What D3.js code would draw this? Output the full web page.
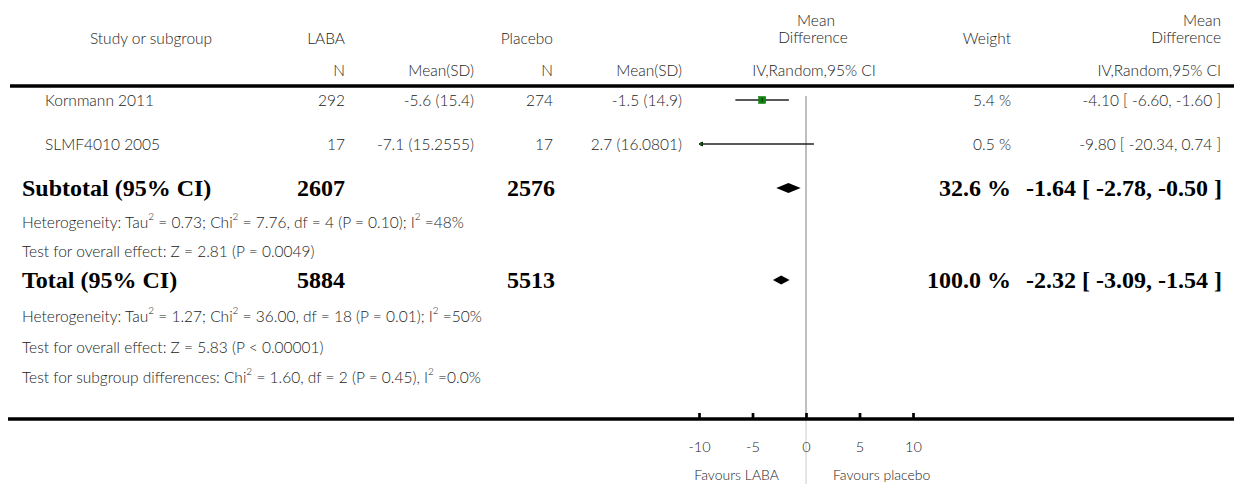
<!DOCTYPE html>
<html><head><meta charset="utf-8">
<script src="https://cdn.jsdelivr.net/npm/d3@7/dist/d3.min.js"></script>
<style>
body{margin:0;background:#fff;}
svg{display:block;}
.t{font-family:Lato,"Open Sans",sans-serif;font-weight:300;font-size:15.5px;fill:#222;}
.b{font-family:"Liberation Serif","DejaVu Serif",serif;font-weight:bold;font-size:24px;fill:#000;}
</style></head>
<body>
<script>
// ---- data ----
const studies = ["Kornmann 2011", "SLMF4010 2005"];
const labaN = [292, 17];
const labaMeanSD = ["-5.6 (15.4)", "-7.1 (15.2555)"];
const placeboN = [274, 17];
const placeboMeanSD = ["-1.5 (14.9)", "2.7 (16.0801)"];
const md = [-4.10, -9.80];
const mdLo = [-6.60, -20.34];
const mdHi = [-1.60, 0.74];
const weights = [5.4, 0.5];
const pooledLabels = ["Subtotal (95% CI)", "Total (95% CI)"];
const pooledLabaN = [2607, 5884];
const pooledPlaceboN = [2576, 5513];
const pooledWeight = [32.6, 100.0];
const pooledMd = [-1.64, -2.32];
const pooledLo = [-2.78, -3.09];
const pooledHi = [-0.50, -1.54];
const ticks = [-10, -5, 0, 5, 10];
const favours = ["Favours LABA", "Favours placebo"];

const W = 1234, H = 484;
const svg = d3.select("body").append("svg").attr("width", W).attr("height", H);
const x = d3.scaleLinear().domain([-10, 10]).range([699, 913]);
const sq = d3.scaleSqrt().domain([0, 5.4]).range([0, 7]);
const f2 = v => v.toFixed(2);

function txt(s, xx, yy, anchor, cls) {
  return svg.append("text").attr("class", cls || "t").attr("x", xx).attr("y", yy)
    .attr("text-anchor", anchor || "start").attr("dominant-baseline", "central").text(s);
}
function supText(parts, xx, yy) {
  const t = svg.append("text").attr("class", "t").attr("x", xx).attr("y", yy).attr("dominant-baseline", "central");
  parts.forEach(p => {
    if (p[1]) t.append("tspan").attr("font-size", "10px").attr("dy", -6).text(p[0]);
    else t.append("tspan").attr("dy", p[2] || 0).text(p[0]);
  });
}

// ---- header ----
txt("Study or subgroup", 151, 38, "middle");
txt("LABA", 345, 38, "end");
txt("Placebo", 553, 38, "end");
txt("Mean", 816, 20, "middle");
txt("Difference", 813, 37, "middle");
txt("Weight", 1011, 38, "end");
txt("Mean", 1221, 20, "end");
txt("Difference", 1221, 37, "end");
txt("N", 345, 70, "end");
txt("Mean(SD)", 474, 70, "end");
txt("N", 553, 70, "end");
txt("Mean(SD)", 682, 70, "end");
txt("IV,Random,95% CI", 814, 70, "middle");
txt("IV,Random,95% CI", 1221, 70, "end");
svg.append("line").attr("x1", 10).attr("x2", W).attr("y1", 86).attr("y2", 86)
  .attr("stroke", "#000").attr("stroke-width", 3.5);

// ---- zero line ----
const axisY = 419;
svg.append("line").attr("x1", x(0)).attr("x2", x(0)).attr("y1", 96).attr("y2", axisY)
  .attr("stroke", "#aaa").attr("stroke-width", 1.5);
svg.append("line").attr("x1", x(0)).attr("x2", x(0)).attr("y1", axisY).attr("y2", H)
  .attr("stroke", "#ddd").attr("stroke-width", 1.5);

// ---- study rows ----
const rowY = [100, 144];
studies.forEach((s, i) => {
  const y = rowY[i];
  txt(s, 45, y, "start");
  txt(labaN[i], 345, y, "end");
  txt(labaMeanSD[i], 474, y, "end");
  txt(placeboN[i], 553, y, "end");
  txt(placeboMeanSD[i], 682, y, "end");
  txt(weights[i].toFixed(1) + " %", 1011, y, "end");
  txt(f2(md[i]) + " [ " + f2(mdLo[i]) + ", " + f2(mdHi[i]) + " ]", 1221, y, "end");
  const lo = Math.max(mdLo[i], x.domain()[0]);
  const hi = Math.min(mdHi[i], x.domain()[1]);
  svg.append("line").attr("x1", x(lo)).attr("x2", x(hi)).attr("y1", y).attr("y2", y)
    .attr("stroke", "#222").attr("stroke-width", 1.3);
  if (mdLo[i] < x.domain()[0]) {
    const ax = x(x.domain()[0]);
    svg.append("path").attr("d", `M${ax},${y} L${ax + 4},${y - 2.5} L${ax + 4},${y + 2.5} Z`).attr("fill", "#000");
  }
  if (md[i] >= x.domain()[0]) {
    const s2 = sq(weights[i]);
    svg.append("rect").attr("x", x(md[i]) - s2 / 2).attr("y", y - s2 / 2).attr("width", s2).attr("height", s2)
      .attr("fill", "#0a8a0a").attr("stroke", "#0a6a0a").attr("stroke-width", 0.5);
    svg.append("line").attr("x1", x(md[i])).attr("x2", x(md[i])).attr("y1", y - 2).attr("y2", y + 2)
      .attr("stroke", "#222").attr("stroke-width", 1);
  }
});

// ---- pooled rows ----
const pooledY = [188, 280];
const diamondH = [10, 9];
pooledLabels.forEach((s, i) => {
  const y = pooledY[i];
  txt(s, 22, y, "start", "b");
  txt(pooledLabaN[i], 345, y, "end", "b");
  txt(pooledPlaceboN[i], 555, y, "end", "b");
  txt(pooledWeight[i].toFixed(1) + " %", 1011, y, "end", "b");
  txt(f2(pooledMd[i]) + " [ " + f2(pooledLo[i]) + ", " + f2(pooledHi[i]) + " ]", 1222, y, "end", "b");
  const h = diamondH[i] / 2;
  svg.append("path").attr("d",
    `M${x(pooledLo[i])},${y} L${x(pooledMd[i])},${y - h} L${x(pooledHi[i])},${y} L${x(pooledMd[i])},${y + h} Z`)
    .attr("fill", "#000");
});

// ---- notes ----
supText([["Heterogeneity: Tau"], ["2", true], [" = 0.73; Chi", false, 6], ["2", true], [" = 7.76, df = 4 (P = 0.10); I", false, 6], ["2", true], [" =48%", false, 6]], 22, 222);
txt("Test for overall effect: Z = 2.81 (P = 0.0049)", 22, 251);
supText([["Heterogeneity: Tau"], ["2", true], [" = 1.27; Chi", false, 6], ["2", true], [" = 36.00, df = 18 (P = 0.01); I", false, 6], ["2", true], [" =50%", false, 6]], 22, 316);
txt("Test for overall effect: Z = 5.83 (P < 0.00001)", 22, 347);
supText([["Test for subgroup differences: Chi"], ["2", true], [" = 1.60, df = 2 (P = 0.45), I", false, 6], ["2", true], [" =0.0%", false, 6]], 22, 377);

// ---- axis ----
svg.append("line").attr("x1", 8).attr("x2", W).attr("y1", axisY).attr("y2", axisY)
  .attr("stroke", "#000").attr("stroke-width", 3.5);
const ax = svg.append("g").attr("transform", `translate(0,${axisY})`)
  .call(d3.axisBottom(x).tickValues(ticks).tickSize(-6).tickPadding(23).tickFormat(d => String(d)));
ax.select(".domain").remove();
ax.attr("font-family", null).attr("font-size", null);
ax.selectAll(".tick line").attr("stroke", "#000").attr("stroke-width", 2.7);
ax.selectAll(".tick text").attr("class", "t").style("font-size", "14.5px");
txt(favours[0], x(0) - 27, 474, "end").style("font-size", "14px");
txt(favours[1], x(0) + 27, 474, "start").style("font-size", "14px");
</script>
</body></html>
